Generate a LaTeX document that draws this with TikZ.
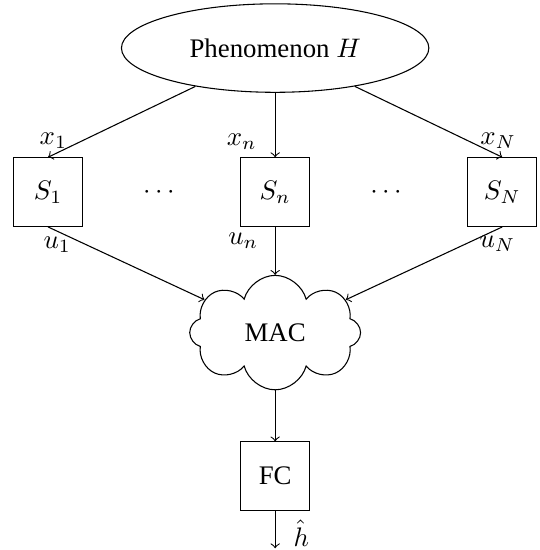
\documentclass[tikz,border=0pt]{standalone}
\usepackage[no-math]{fontspec}
\setmainfont{Liberation Serif}
\usepackage{amsmath}
\usetikzlibrary{positioning, shapes.geometric, shapes.symbols}
\tikzset{sensor/.style = {rectangle,draw,minimum size=0.9cm,inner sep=0mm}}

\begin{document}
\begin{tikzpicture}
            \useasboundingbox (0,0) rectangle (7.07,-7.21);
            \node[ellipse,draw,minimum width=4.03cm,minimum height=1.16cm,inner sep=0mm] (H) at (3.607,-0.63) {Phenomenon $H$};
            \node[sensor] (S1) at (0.63,-2.518) {$S_1$};
            \node[sensor] (Sn) at (3.607,-2.518) {$S_n$};
            \node[sensor] (SN) at (6.584,-2.518) {$S_N$};
            \node (dots1) at (2.112,-2.518) {$\cdots$};
            \node (dots2) at (5.089,-2.518) {$\cdots$};
            \node[cloud,draw,cloud puffs=8,aspect=1.5,inner sep=1pt,minimum width=2.24cm,minimum height=1.5cm] (MAC) at (3.607,-4.36) {MAC};
            \node[sensor] (FC) at (3.607,-6.243) {FC};
            \coordinate (out) at (3.607,-7.187);
            \node (x1) at (0.70,-1.84) {$x_1$};
            \node (xn) at (3.17,-1.86) {$x_n$};
            \node (xN) at (6.53,-1.85) {$x_N$};
            \node (u1) at (0.75,-3.21) {$u_1$};
            \node (un) at (3.19,-3.15) {$u_n$};
            \node (uN) at (6.52,-3.19) {$u_N$};
            \node (hhat) at (3.95,-6.99) {$\hat{h}$};
            \draw[->] (H) -- (S1.north);
            \draw[->] (H) -- (Sn.north);
            \draw[->] (H) -- (SN.north);
            \draw[->] (S1.south) -- (MAC);
            \draw[->] (Sn.south) -- (MAC);
            \draw[->] (SN.south) -- (MAC);
            \draw[->] (MAC) -- (FC);
            \draw[->] (FC) -- (out);
        \end{tikzpicture}
\end{document}
